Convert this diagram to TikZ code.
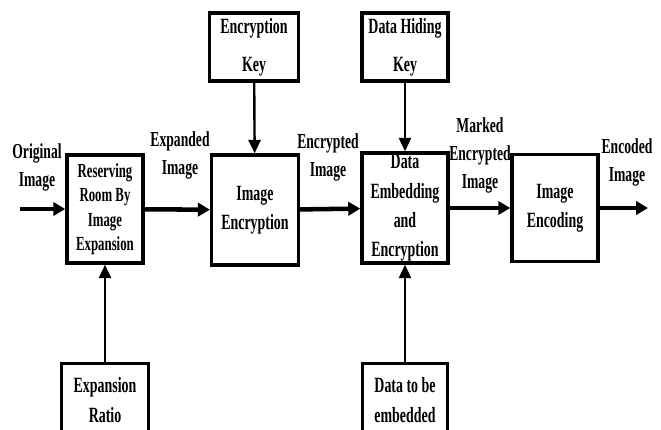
\documentclass[tikz,border=0pt]{standalone}
\usepackage{fontspec}
\setmainfont{Liberation Serif}[FakeStretch=0.64]
\usetikzlibrary{arrows.meta,positioning}
\tikzset{
  block/.style={draw=black,line width=2.6pt,fill=white,align=center,inner sep=1pt,font=\bfseries\fontsize{16.3}{22}\selectfont},
  keyblock/.style={block,font=\bfseries\fontsize{16.3}{28.5}\selectfont},
  tightblock/.style={block,font=\bfseries\fontsize{15}{18.4}\selectfont},
  flow/.style={-{Triangle[length=9pt,width=10pt]},line width=3.4pt},
  feed/.style={-{Triangle[length=10pt,width=9pt]},line width=1.8pt},
  sig/.style={align=center,font=\bfseries\fontsize{16}{21}\selectfont}
}
\begin{document}
\begin{tikzpicture}[x=0.75pt,y=-0.75pt]
\useasboundingbox (0,0) rectangle (661,429);
\clip (0,0) rectangle (661,429);
% main blocks
\node[tightblock,minimum width=57pt,minimum height=81pt] (resv) at (105,209) {Reserving\\Room By\\Image\\Expansion};
\node[block,minimum width=65pt,minimum height=82.5pt] (enc) at (255,210) {Image\\Encryption};
\node[block,minimum width=64.5pt,minimum height=82.5pt] (embed) at (405,208) {Data\\Embedding\\and\\Encryption};
\node[block,minimum width=64.5pt,minimum height=80pt] (encode) at (555,208) {Image\\Encoding};
% side inputs
\node[keyblock,minimum width=67pt,minimum height=51pt] (ekey) at (254,47) {Encryption\\Key};
\node[keyblock,minimum width=64.5pt,minimum height=51pt] (hkey) at (405,47) {Data Hiding\\Key};
\node[block,minimum width=65pt,minimum height=55pt] (ratio) at (105,400) {Expansion\\Ratio};
\node[block,minimum width=64pt,minimum height=55pt] (tbe) at (405,400) {Data to be\\embedded};
\coordinate (in) at (20,209);
\coordinate (out) at (648,208);

\draw[flow] (in) -- (resv);
\draw[flow] (resv) -- (enc);
\draw[flow] (enc) -- (embed);
\draw[flow] (embed) -- (encode);
\draw[flow] (encode) -- (out);
\draw[feed] (ekey) -- (enc);
\draw[feed] (hkey) -- (embed);
\draw[feed] (ratio) -- (resv);
\draw[feed] (tbe) -- (embed);

% signal labels
\node[sig] (lorig) at (37,167) {Original\\Image};
\node[sig] (lexp) at (180,155) {Expanded\\Image};
\node[sig] (lcrypt) at (328,157) {Encrypted\\Image};
\node[sig] (lmark) at (480,155) {Marked\\Encrypted\\Image};
\node[sig] (lcode) at (627,162) {Encoded\\Image};
\end{tikzpicture}
\end{document}
